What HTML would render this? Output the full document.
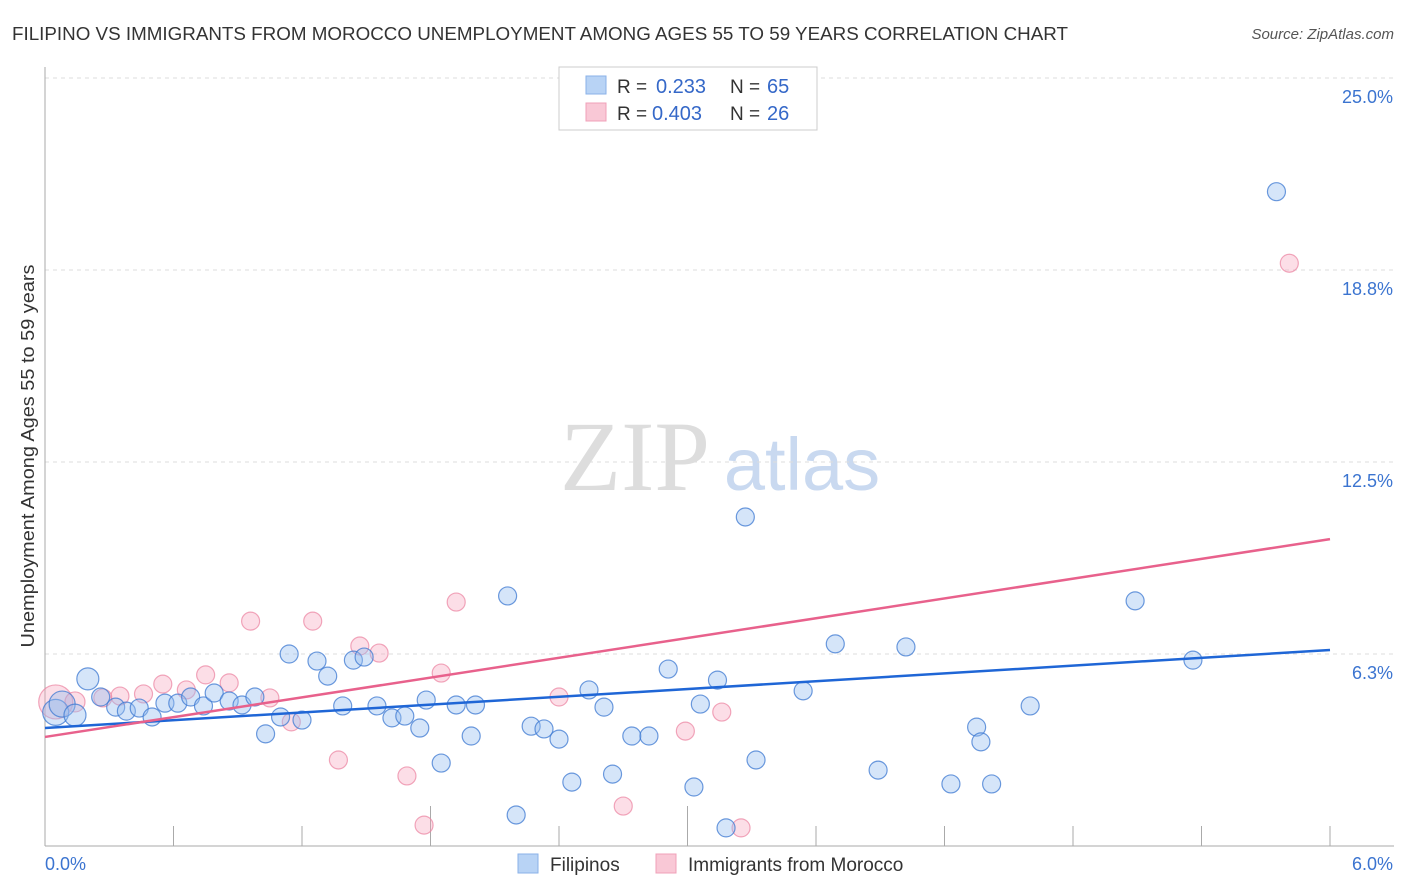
<!DOCTYPE html>
<html><head><meta charset="utf-8"><style>
body{margin:0;background:#fff;font-family:"Liberation Sans",sans-serif;}
svg{display:block}
</style></head><body>
<svg id="chart" width="1406" height="892" xmlns="http://www.w3.org/2000/svg">
<text x="12" y="40" font-size="18" fill="#333" textLength="1056" lengthAdjust="spacingAndGlyphs">FILIPINO VS IMMIGRANTS FROM MOROCCO UNEMPLOYMENT AMONG AGES 55 TO 59 YEARS CORRELATION CHART</text>
<text x="1394" y="39" font-size="15" fill="#555" font-style="italic" text-anchor="end">Source: ZipAtlas.com</text>
<text x="34" y="456" font-size="18" fill="#333" text-anchor="middle" textLength="383" lengthAdjust="spacingAndGlyphs" transform="rotate(-90 34 456)">Unemployment Among Ages 55 to 59 years</text>
<g><text x="635" y="490" font-size="100" fill="#ddd" font-family="Liberation Serif,serif" text-anchor="middle">ZIP</text><text x="802" y="490" font-size="74" fill="#c9d9f0" text-anchor="middle">atlas</text></g>
<g id="grid"></g><g id="axes"></g><g id="lines"></g><g id="pts"></g>
<g>
<rect x="559" y="67" width="258" height="63" fill="#fff" stroke="#ccc"/>
<rect x="586" y="76" width="20" height="18" fill="#b8d3f5" stroke="#8ab2e8"/>
<text x="617" y="93" font-size="19" fill="#333">R =</text><text x="656" y="93" font-size="20" fill="#3568c8">0.233</text>
<text x="730" y="93" font-size="19" fill="#333">N =</text><text x="767" y="93" font-size="20" fill="#3568c8">65</text>
<rect x="586" y="103" width="20" height="18" fill="#f9c8d6" stroke="#f0a0b8"/>
<text x="617" y="120" font-size="19" fill="#333">R =</text><text x="652" y="120" font-size="20" fill="#3568c8">0.403</text>
<text x="730" y="120" font-size="19" fill="#333">N =</text><text x="767" y="120" font-size="20" fill="#3568c8">26</text>
</g>
<g>
<rect x="518" y="854" width="20" height="19" fill="#b8d3f5" stroke="#8ab2e8"/>
<text x="550" y="871" font-size="19" fill="#333">Filipinos</text>
<rect x="656" y="854" width="20" height="19" fill="#f9c8d6" stroke="#f0a0b8"/>
<text x="688" y="871" font-size="19" fill="#333">Immigrants from Morocco</text>
</g>
</svg>
<script>
const yTicks=[25,18.75,12.5,6.25];
const yTickLabels=["25.0%","18.8%","12.5%","6.3%"];
const xTickLabels=["0.0%","6.0%"];
const blueX=[0.05,0.08,0.14,0.2,0.26,0.33,0.38,0.44,0.5,0.56,0.62,0.68,0.74,0.79,0.86,0.92,0.98,1.03,1.1,1.14,1.2,1.27,1.32,1.39,1.44,1.49,1.55,1.62,1.68,1.75,1.78,1.85,1.92,1.99,2.01,2.16,2.2,2.27,2.33,2.4,2.46,2.54,2.61,2.65,2.74,2.82,2.91,3.03,3.06,3.14,3.18,3.27,3.32,3.54,3.69,3.89,4.02,4.23,4.35,4.37,4.42,4.6,5.09,5.36,5.75];
const blueY=[4.35,4.62,4.26,5.44,4.85,4.52,4.39,4.49,4.2,4.65,4.65,4.85,4.56,4.98,4.72,4.59,4.85,3.65,4.2,6.25,4.1,6.02,5.53,4.56,6.05,6.15,4.56,4.17,4.23,3.84,4.75,2.7,4.59,3.58,4.59,8.14,1.01,3.9,3.81,3.48,2.08,5.08,4.52,2.34,3.58,3.58,5.76,1.92,4.62,5.4,0.59,10.71,2.8,5.05,6.58,2.47,6.48,2.02,3.87,3.39,2.02,4.56,7.98,6.05,21.3];
const blueR=[13,13,11,11,9,9,9,9,9,9,9,9,9,9,9,9,9,9,9,9,9,9,9,9,9,9,9,9,9,9,9,9,9,9,9,9,9,9,9,9,9,9,9,9,9,9,9,9,9,9,9,9,9,9,9,9,9,9,9,9,9,9,9,9,9];
const pinkX=[0.05,0.14,0.27,0.35,0.46,0.55,0.66,0.75,0.86,0.96,1.05,1.15,1.25,1.37,1.47,1.56,1.69,1.77,1.85,1.92,2.4,2.7,2.99,3.16,3.25,5.81];
const pinkY=[4.69,4.69,4.82,4.88,4.95,5.27,5.08,5.57,5.31,7.32,4.82,4.04,7.32,2.8,6.51,6.28,2.28,0.68,5.63,7.94,4.85,1.3,3.74,4.36,0.59,18.97];
const pinkR=[17,10,9,9,9,9,9,9,9,9,9,9,9,9,9,9,9,9,9,9,9,9,9,9,9,9];
const blueLine=[3.84,6.38];
const pinkLine=[3.55,9.99];
const NS="http://www.w3.org/2000/svg";
const X0=45,X1=1330,Y0=846,YS=192/6.25;
const sx=v=>X0+(v/6)*(X1-X0);
const sy=v=>Y0-v*YS;
function mk(t,a,p){const e=document.createElementNS(NS,t);for(const k in a)e.setAttribute(k,a[k]);p.appendChild(e);return e;}
const grid=document.getElementById('grid');
yTicks.forEach((t,i)=>{
 const l=mk('line',{x1:X0,x2:1394,y1:sy(t),y2:sy(t),stroke:'#ddd','stroke-dasharray':'4,4'},grid);
 
 
 const tx=mk('text',{x:1393,y:sy(t)+25,'font-size':18,fill:'#3b74d0','text-anchor':'end'},grid);
 tx.textContent=yTickLabels[i];
 
 
});
const ax=document.getElementById('axes');
mk('line',{x1:X0,x2:X0,y1:67,y2:846,stroke:'#aaa'},ax);
mk('line',{x1:X0,x2:1394,y1:846,y2:846,stroke:'#aaa'},ax);
for(let i=1;i<=10;i++){const x=X0+i*(X1-X0)/10;mk('line',{x1:x,x2:x,y1:(i==3||i==5)?806:826,y2:846,stroke:'#aaa'},ax);}
const xl0=mk('text',{x:45,y:870,'font-size':18,fill:'#3b74d0'},ax);xl0.textContent=xTickLabels[0];


const xl1=mk('text',{x:1393,y:870,'font-size':18,fill:'#3b74d0','text-anchor':'end'},ax);xl1.textContent=xTickLabels[1];


const pts=document.getElementById('pts');
pinkX.forEach((v,i)=>{const c=mk('circle',{cx:sx(v),cy:sy(pinkY[i]),r:pinkR[i],fill:'rgba(245,160,185,0.35)',stroke:'rgba(235,130,160,0.7)','stroke-width':1.2},pts);
 
 });
blueX.forEach((v,i)=>{const c=mk('circle',{cx:sx(v),cy:sy(blueY[i]),r:blueR[i],fill:'rgba(150,190,240,0.4)',stroke:'rgba(60,120,210,0.75)','stroke-width':1.2},pts);
 
 });
const bl=mk('line',{x1:X0,x2:X1,y1:sy(blueLine[0]),y2:sy(blueLine[1]),stroke:'#1f66d6','stroke-width':2.5},pts);


const pl=mk('line',{x1:X0,x2:X1,y1:sy(pinkLine[0]),y2:sy(pinkLine[1]),stroke:'#e8618c','stroke-width':2.5},pts);


</script>
</body></html>
